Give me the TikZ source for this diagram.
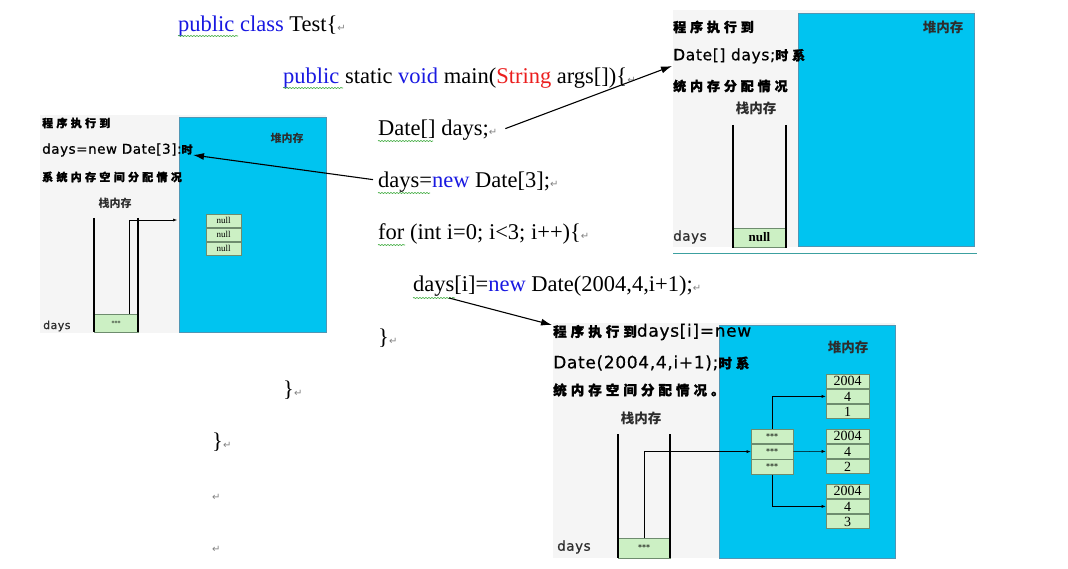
\documentclass[tikz,border=0pt]{standalone}
\usepackage{fontspec}
\setmainfont{Liberation Serif}
\newfontfamily\cjk{Noto Sans CJK SC}
\newfontfamily\vera{DejaVu Sans}
\usetikzlibrary{positioning,calc,arrows.meta,decorations.pathmorphing}

\definecolor{heapblue}{RGB}{0,196,240}
\definecolor{heapline}{RGB}{80,150,180}
\definecolor{cellgreen}{RGB}{204,240,196}
\definecolor{cellline}{RGB}{110,140,110}
\definecolor{panelgray}{RGB}{245,245,245}
\definecolor{kwblue}{RGB}{25,25,225}
\definecolor{kwred}{RGB}{235,30,30}
\definecolor{spellgreen}{RGB}{60,170,60}
\definecolor{retgray}{RGB}{130,130,130}
\definecolor{labgray}{RGB}{45,45,45}
\definecolor{rule}{RGB}{60,160,160}

\newcommand{\ret}{{\vera\fontsize{10}{10}\selectfont\textcolor{retgray}{↵}}}
\newcommand{\kw}[1]{\textcolor{kwblue}{#1}}
\newcommand{\lat}[2]{{\vera\fontsize{#1}{#1}\selectfont\addfontfeatures{LetterSpace=4,FakeBold=0.6}#2}}
\newcommand{\han}[2]{{\cjk\bfseries\fontsize{#1}{#1}\selectfont\addfontfeatures{LetterSpace=30,FakeBold=1.5}#2}}
\newcommand{\lbl}[2]{{\cjk\bfseries\fontsize{#1}{#1}\selectfont\textcolor{labgray}{#2}}}
\newcommand{\stars}[1]{{\vera\fontsize{#1}{#1}\selectfont ***}}

\begin{document}
\begin{tikzpicture}[x=1pt,y=-1pt,
  code/.style={anchor=base west,inner sep=0pt,font=\fontsize{22.5}{22.5}\selectfont},
  spell/.style={draw=spellgreen,line width=0.6pt,decorate,
    decoration={snake,amplitude=0.6pt,segment length=3pt}},
  panel/.style={fill=panelgray},
  heap/.style={fill=heapblue,draw=heapline,line width=0.6pt},
  wall/.style={line width=1.3pt},
  txt/.style={anchor=west,inner sep=0pt},
  cell/.style={draw=cellline,fill=cellgreen,line width=0.6pt,inner sep=0pt},
  big/.style={-{Latex[length=11pt,width=7pt]},line width=1.1pt},
  link/.style={-{Latex[length=4pt,width=3pt]},line width=0.5pt}]
\useasboundingbox (0,0) rectangle (1068,569);

% source code
\node[code] (l1) at (178,32) {\kw{public} \kw{class} Test\{\ret};
\node[code] (l2) at (283,84) {\kw{public} static \kw{void} main(\textcolor{kwred}{String} args[])\{\ret};
\node[code] (l3) at (378,136) {Date[] days;\ret};
\node[code] (l4) at (378,188) {days=\kw{new} Date[3];\ret};
\node[code] (l5) at (378,240) {for (int i=0; i<3; i++)\{\ret};
\node[code] (l6) at (413,292) {days[i]=\kw{new} Date(2004,4,i+1);\ret};
\node[code] (l7) at (378,344) {\}\ret};
\node[code] (l8) at (283,396) {\}\ret};
\node[code] (l9) at (212,448) {\}\ret};
\node[code] (l10) at (212,500) {\ret};
\node[code] (l11) at (212,552) {\ret};
\draw[spell] ($(l1.base west)+(0,4)$) -- ++(60,0);
\draw[spell] ($(l2.base west)+(0,4)$) -- ++(60,0);
\draw[spell] ($(l3.base west)+(0,5)$) -- ++(55,0);
\draw[spell] ($(l4.base west)+(0,5)$) -- ++(52,0);
\draw[spell] ($(l5.base west)+(0,5)$) -- ++(27,0);
\draw[spell] ($(l6.base west)+(0,6)$) -- ++(42,0);

% left panel: days=new Date[3]
\fill[panel] (40,115) rectangle (326,333);
\draw[heap] (179,117) rectangle (326,332);
\node[txt] (lt1) at (42,123) {\han{11}{程序执行到}};
\node[txt] (lt2) at (42,150) {\lat{13.5}{days=new Date[3]:}\han{11}{时}};
\node[txt] (lt3) at (42,177) {\han{11}{系统内存空间分配情况}};
\node (lstk) at (115,203) {\lbl{11}{栈内存}};
\node (lheap) at (287,138) {\lbl{11}{堆内存}};
\node[txt] (ldays) at (43,326) {\textcolor{labgray}{\lat{11}{days}}};
\node[cell,minimum width=44pt,minimum height=18pt] (lcell) at (116,323) {\stars{6}};
\draw[wall] (94,218) -- (94,332);
\draw[wall] (138,218) -- (138,332);
\node[cell,minimum width=35pt,minimum height=13.3pt,font=\fontsize{9}{9}\selectfont] (la1) at (223.5,220.7) {null};
\node[cell,minimum width=35pt,minimum height=13.3pt,font=\fontsize{9}{9}\selectfont,below=0pt of la1] (la2) {null};
\node[cell,minimum width=35pt,minimum height=13.3pt,font=\fontsize{9}{9}\selectfont,below=0pt of la2] (la3) {null};
\coordinate (lin) at (177,220);
\draw[link] ($(lcell.north east)+(-9,0)$) |- (lin);

% top right panel: Date[] days
\fill[panel] (673,10) rectangle (975,247);
\draw[heap] (798,13) rectangle (974,246);
\draw[rule,line width=0.8pt] (673,253) -- (977,253);
\node[txt] (rt1) at (673,27) {\han{13}{程序执行到}};
\node[txt] (rt2) at (673,56) {\lat{15.5}{Date[] days;}\han{13}{时系}};
\node[txt] (rt3) at (673,86) {\han{13}{统内存分配情况}};
\node (rstk) at (756,108) {\lbl{13.5}{栈内存}};
\node (rheap) at (943,27) {\lbl{13.5}{堆内存}};
\node[txt] (rdays) at (673,237) {\textcolor{labgray}{\lat{13.5}{days}}};
\node[cell,minimum width=53pt,minimum height=19pt,font=\fontsize{13}{13}\selectfont\bfseries] (rcell) at (759.5,237.5) {null};
\draw[wall] (733,125) -- (733,248);
\draw[wall] (786,125) -- (786,248);

% bottom panel: days[i]=new Date(...)
\fill[panel] (553,323) rectangle (895,558);
\draw[heap] (719,325) rectangle (895,558);
\node[txt] (bt1) at (553,332) {\han{13.5}{程序执行到}\lat{17}{days[i]=new}};
\node[txt] (bt2) at (553,363) {\lat{17}{Date(2004,4,i+1);}\han{13.5}{时系}};
\node[txt] (bt3) at (553,390) {\han{13.5}{统内存空间分配情况。}};
\node (bstk) at (641,418) {\lbl{13.5}{栈内存}};
\node (bheap) at (848,347) {\lbl{13.5}{堆内存}};
\node[txt] (bdays) at (557,547) {\textcolor{labgray}{\lat{13.5}{days}}};
\node[cell,minimum width=52pt,minimum height=20pt] (bcell) at (644,548) {\stars{8}};
\draw[wall] (618,434) -- (618,558);
\draw[wall] (670,434) -- (670,558);
\node[cell,minimum width=42pt,minimum height=14.7pt] (ba1) at (772,436.3) {\stars{8}};
\node[cell,minimum width=42pt,minimum height=14.7pt,below=0pt of ba1] (ba2) {\stars{8}};
\node[cell,minimum width=42pt,minimum height=14.7pt,below=0pt of ba2] (ba3) {\stars{8}};
\foreach \o/\y/\d in {o1/381.3/1,o2/436.3/2,o3/491.3/3}{
  \node[cell,minimum width=43pt,minimum height=14.5pt,font=\fontsize{14}{14}\selectfont] (\o a) at (847.5,\y) {2004};
  \node[cell,minimum width=43pt,minimum height=14.5pt,font=\fontsize{14}{14}\selectfont,below=0pt of \o a] (\o b) {4};
  \node[cell,minimum width=43pt,minimum height=14.5pt,font=\fontsize{14}{14}\selectfont,below=0pt of \o b] (\o c) {\d};
}
\draw[link] (bcell.north) |- (ba2.west);
\draw[link] (ba1.north) |- (o1b.west);
\draw[link] (ba2.east) -- (o2b.west);
\draw[link] (ba3.south) |- (o3b.west);

% pointers from code to panels
\coordinate (tip1) at ($(rt2.west)+(-1,10)$);
\coordinate (tip2) at (193,155);
\coordinate (tip3) at ($(bt1.west)+(-1,-7)$);
\draw[big] ($(l3.east)+(8,-2)$) -- (tip1);
\draw[big] ($(l4.west)+(-5,-3)$) -- (tip2);
\draw[big] ($(l6.base west)+(36,6)$) -- (tip3);
\end{tikzpicture}
\end{document}
